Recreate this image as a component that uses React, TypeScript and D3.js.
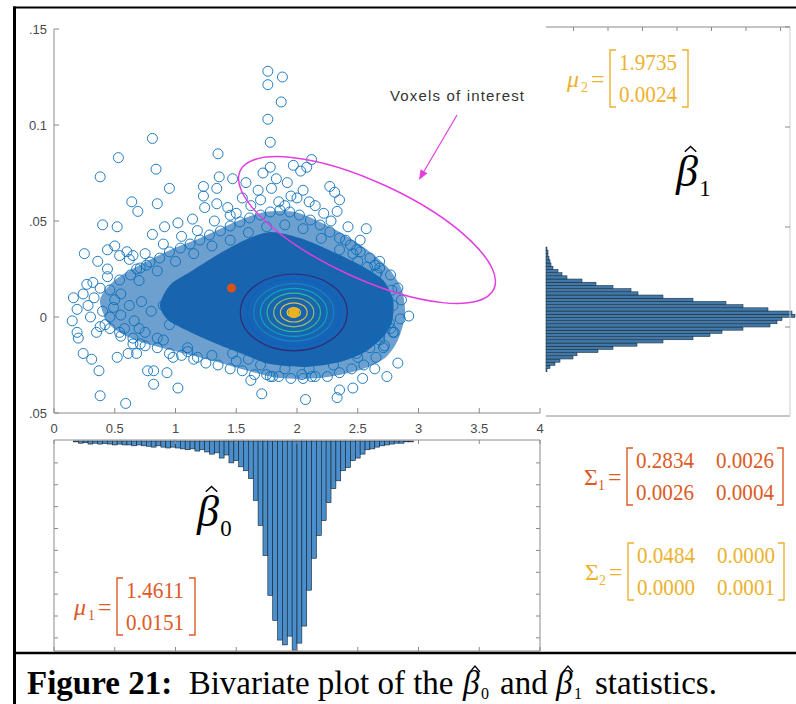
import React from 'react';
import * as d3 from 'd3';

const W = 796;
const H = 704;

// ---------- axis ticks ----------
const xTicks = [0, 0.5, 1, 1.5, 2, 2.5, 3, 3.5, 4];
const xTickLabels = ['0', '0.5', '1', '1.5', '2', '2.5', '3', '3.5', '4'];
const yTicks = [0.15, 0.1, 0.05, 0, -0.05];
const yTickLabels = ['.15', '0.1', '.05', '0', '.05'];

// ---------- scatter data (beta0, beta1) ----------
const outlierPts: [number, number][] = [
  [1.76, 0.128], [1.88, 0.125], [1.76, 0.121], [1.87, 0.112], [1.76, 0.103], [1.78, 0.091],
  [0.81, 0.093], [0.53, 0.083], [0.38, 0.073], [0.84, 0.077], [1.35, 0.085], [1.36, 0.073],
  [1.47, 0.072], [1.58, 0.070], [1.68, 0.066], [1.72, 0.075], [0.95, 0.067], [1.23, 0.068],
  [1.23, 0.063], [1.34, 0.067], [0.64, 0.060], [0.69, 0.055], [0.85, 0.059], [1.24, 0.057],
  [1.34, 0.059], [1.43, 0.057], [1.45, 0.053],
  [2.12, 0.082], [1.97, 0.079], [1.78, 0.078], [2.03, 0.076], [2.08, 0.078], [1.83, 0.072],
  [1.92, 0.070], [1.79, 0.067], [2.27, 0.068], [2.31, 0.065], [2.35, 0.061], [2.33, 0.055],
  [2.57, 0.046], [2.40, 0.040], [2.49, 0.035], [2.46, 0.033], [2.68, 0.029], [2.64, 0.027],
  [2.58, 0.026], [2.66, 0.023],
  [0.40, 0.048], [0.52, 0.047], [0.25, 0.033], [0.36, 0.029], [0.44, 0.035], [0.50, 0.037],
  [0.81, 0.043], [0.91, 0.047], [1.02, 0.049], [1.14, 0.051], [0.60, 0.034], [0.65, 0.032],
  [0.54, 0.032], [0.68, 0.025], [0.76, 0.027], [0.44, 0.025], [0.44, 0.021], [0.24, 0.012],
  [0.27, 0.017], [0.32, 0.018], [0.38, 0.015], [0.16, 0.010], [0.19, 0.004], [0.15, -0.002],
  [0.19, -0.008], [0.20, -0.011], [0.49, 0.005], [0.46, 0.000], [0.38, -0.005], [0.35, -0.008],
  [0.54, -0.008], [0.65, -0.014], [0.71, -0.014], [0.24, -0.019], [0.31, -0.022], [0.37, -0.028],
  [0.38, -0.041], [0.59, -0.045], [0.52, -0.021], [0.61, -0.019], [0.68, -0.019], [0.77, -0.028],
  [0.82, -0.028], [0.82, -0.035], [0.93, -0.029], [1.02, -0.037], [0.98, -0.021], [1.10, -0.018],
  [1.18, -0.021], [1.47, -0.019], [1.60, -0.022],
  [2.75, 0.009], [2.79, 0.006], [2.77, -0.006], [2.79, -0.008], [2.92, 0.0005], [2.83, -0.024],
  [2.74, -0.031], [2.64, -0.027], [2.54, -0.032], [2.46, -0.037], [2.35, -0.038], [2.33, -0.042],
  [2.07, -0.043], [1.71, -0.040], [2.12, -0.031], [2.04, -0.030], [1.80, -0.031], [2.49, -0.019],
  [2.60, -0.016], [2.71, -0.016], [2.68, -0.010], [1.78, -0.031], [1.62, -0.033],
];

const cloudEdgePts: [number, number][] = [
  [0.46, 0.0141], [0.54, 0.0193], [0.63, 0.0219], [0.71, 0.0255], [0.79, 0.0286], [0.87, 0.0307],
  [0.95, 0.0339], [1.04, 0.0359], [1.12, 0.038], [1.20, 0.0401], [1.28, 0.0427], [1.37, 0.0448],
  [1.45, 0.0474], [1.53, 0.0495], [1.61, 0.0516], [1.70, 0.0531], [1.78, 0.0547], [1.86, 0.0557],
  [1.94, 0.0547], [2.02, 0.0531], [2.11, 0.0505], [2.19, 0.0479], [2.27, 0.0443], [2.35, 0.0411],
  [2.44, 0.0375], [2.52, 0.0339], [2.60, 0.0307], [2.68, 0.0255], [2.77, 0.0219], [2.83, 0.0151],
  [2.86, 0.0089],
  [0.55, 0.012], [0.70, 0.019], [0.85, 0.024], [1.00, 0.029], [1.15, 0.033], [1.30, 0.037],
  [1.45, 0.040], [1.60, 0.044], [1.75, 0.047], [1.90, 0.048], [2.05, 0.046], [2.20, 0.041],
  [2.35, 0.035], [2.50, 0.029], [2.65, 0.022], [2.78, 0.014],
  [0.62, 0.030], [0.75, 0.033], [0.90, 0.038], [1.05, 0.042], [1.18, 0.045], [1.32, 0.050],
  [1.50, 0.054], [1.62, 0.058], [1.85, 0.060], [2.00, 0.062], [2.15, 0.058], [2.22, 0.054],
  [2.42, 0.047], [1.70, 0.061], [1.90, 0.058], [2.10, 0.060], [1.95, 0.063], [2.05, 0.066],
  [1.55, 0.062], [2.28, 0.050], [2.52, 0.040],
  [0.28, 0.006], [0.30, 0.000], [0.33, 0.010], [0.40, 0.003], [0.42, -0.004], [0.50, 0.009],
  [0.55, 0.001], [0.58, -0.006], [0.62, 0.006], [0.66, -0.002], [0.72, 0.008], [0.75, -0.008],
  [0.80, 0.003], [0.85, -0.011], [0.90, 0.006], [0.95, -0.004],
  [0.46, -0.006], [0.55, -0.010], [0.65, -0.011], [0.75, -0.015], [0.85, -0.016], [0.95, -0.019],
  [1.05, -0.020], [1.15, -0.022], [1.25, -0.024], [1.35, -0.025], [1.45, -0.027], [1.55, -0.028],
  [1.65, -0.030], [1.75, -0.030], [1.85, -0.031], [1.95, -0.032], [2.05, -0.032], [2.15, -0.031],
  [2.25, -0.031], [2.35, -0.029], [2.45, -0.027], [2.55, -0.025], [2.65, -0.021], [2.72, -0.015],
  [2.80, -0.008], [2.85, -0.001],
  [0.70, -0.006], [0.90, -0.012], [1.10, -0.016], [1.30, -0.020], [1.50, -0.023], [1.70, -0.025],
  [1.90, -0.027], [2.10, -0.027], [2.30, -0.025], [2.50, -0.021], [2.68, -0.012], [2.76, -0.003],
];

// dense (saturated) region outlines, data units
const coreOutline: [number, number][] = [
  [0.872, 0.0063], [0.955, 0.0167], [1.119, 0.0234], [1.342, 0.0323], [1.572, 0.0401],
  [1.778, 0.0443], [2.025, 0.0411], [2.296, 0.0339], [2.519, 0.0271], [2.708, 0.0193],
  [2.790, 0.0089], [2.782, -0.0026], [2.708, -0.0104], [2.560, -0.0182], [2.354, -0.0234],
  [2.066, -0.026], [1.778, -0.0245], [1.572, -0.0198], [1.342, -0.0141], [1.119, -0.0078],
  [0.938, -0.0016],
];
const haloOutline: [number, number][] = [
  [0.379, 0.0089], [0.502, 0.0193], [0.708, 0.0271], [0.955, 0.0349], [1.202, 0.0411],
  [1.490, 0.0495], [1.737, 0.0547], [1.984, 0.0547], [2.189, 0.0495], [2.395, 0.0427],
  [2.601, 0.0339], [2.765, 0.0245], [2.864, 0.0141], [2.889, 0.001], [2.831, -0.012],
  [2.724, -0.0214], [2.519, -0.0276], [2.189, -0.0318], [1.86, -0.0318], [1.572, -0.0276],
  [1.284, -0.0224], [0.955, -0.0172], [0.667, -0.012], [0.461, -0.0042],
];

// ---------- Gaussian parameters ----------
const mu1 = [1.4611, 0.0151];
const mu2 = [1.9735, 0.0024];
const sigma1 = [[0.2834, 0.0026], [0.0026, 0.0004]];
const sigma2 = [[0.0484, 0.0], [0.0, 0.0001]];
const contourLevels = [2, 1.75, 1.5, 1.25, 1, 0.75, 0.5, 0.25];
const contourColors = ['#2e2a80', '#0a5fd8', '#1483d4', '#08a5c8', '#33b89f', '#8fbf72', '#d8ba55', '#f8c92f'];

// ---------- marginal histograms ----------
const beta0BinStart = 0.16;
const beta0BinWidth = 0.04;
const beta0Counts = [
  2, 5, 4, 7, 5, 7, 6, 7, 9, 7, 9, 9, 11, 9, 11, 12, 14, 11, 14, 16,
  14, 16, 18, 20, 18, 23, 20, 25, 30, 27, 39, 32, 50, 45, 59, 68, 86, 136, 193, 262,
  353, 410, 455, 466, 446, 478, 462, 423, 341, 268, 216, 182, 141, 109, 91, 68, 61, 45, 39, 30,
  20, 18, 14, 11, 9, 7, 5, 5, 2, 2,
];
const beta0CountTicks = [50, 100, 150, 200, 250, 300, 350, 400, 450];

const beta1BinStart = -0.0224;
const beta1BinWidth = 0.0016;
const beta1Counts = [
  1, 4, 9, 14, 27, 31, 52, 67, 91, 117, 147, 164, 176, 197, 224, 231, 236, 249, 246, 222,
  197, 180, 147, 117, 92, 85, 67, 50, 36, 21, 16, 12, 7, 5, 4, 3, 2, 2, 1,
];
const beta1AxisTicks = [0, 0.05, 0.1, 0.15];
const beta1CountTicks = [1, 2, 3, 4, 5, 6, 7];

const ORANGE = '#dd5a24';
const GOLD = '#ecb22e';
const MAGENTA = '#e23ee0';
const AXIS = '#8a8a8a';
const LABEL = '#4a4a4a';
const SANS = '"Liberation Sans", Arial, sans-serif';
const SERIF = '"Liberation Serif", "Times New Roman", serif';

function Matrix({ x, y, color, label, italic, sub, rows, colGap }: any) {
  // x: left bracket position, y: top of bracket
  const nCols = rows[0].length;
  const rowH = 32;
  const h = rows.length * rowH - 7;
  const width = nCols === 1 ? 78 : 156;
  return (
    <g fill={color} stroke="none" fontFamily={SERIF}>
      <text x={x - 43} y={y + h / 2 + 8} fontSize={24} fontStyle={italic ? 'italic' : 'normal'}>{label}</text>
      <text x={x - 29} y={y + h / 2 + 13} fontSize={14}>{sub}</text>
      <text x={x - 19} y={y + h / 2 + 8} fontSize={24}>=</text>
      <path d={`M${x + 6},${y} H${x} V${y + h} H${x + 6}`} fill="none" stroke={color} strokeWidth={1.4} />
      <path d={`M${x + width - 6},${y} H${x + width} V${y + h} H${x + width - 6}`} fill="none" stroke={color} strokeWidth={1.4} />
      {rows.map((r: string[], i: number) =>
        r.map((v: string, j: number) => (
          <text key={i + '-' + j} x={x + 9 + j * colGap} y={y + 20 + i * rowH} fontSize={24}
            textLength={58} lengthAdjust="spacingAndGlyphs">{v}</text>
        ))
      )}
    </g>
  );
}

function BetaHat({ x, y, size, sub }: any) {
  const s = size;
  return (
    <g fontFamily={SERIF} fill="#000">
      <text x={x} y={y} fontSize={s} fontStyle="italic">β</text>
      <path d={`M${x + s * 0.2},${y - s * 0.78} L${x + s * 0.33},${y - s * 0.9} L${x + s * 0.46},${y - s * 0.78}`} fill="none" stroke="#000" strokeWidth={s / 30} />
      <text x={x + s * 0.53} y={y + s * 0.22} fontSize={s * 0.52}>{sub}</text>
    </g>
  );
}

export default function App() {
  const x = d3.scaleLinear().domain([0, 4]).range([54, 540]);
  const y = d3.scaleLinear().domain([-0.05, 0.15]).range([413, 29]);

  // right marginal (beta1) panel
  const yR = d3.scaleLinear().domain([-0.044, 0.15]).range([415, 27]);
  const xR = d3.scaleLinear().domain([0, 250]).range([546, 796]);
  const xRTicks = d3.scaleLinear().domain([0, 7]).range([539, 780.5]);

  // bottom marginal (beta0) panel
  const yB = d3.scaleLinear().domain([0, 480]).range([441, 651]);

  const closed = d3.line<[number, number]>().x(d => x(d[0])).y(d => y(d[1])).curve(d3.curveCardinalClosed.tension(0.2));

  const sx2 = Math.sqrt(sigma2[0][0]);
  const sy2 = Math.sqrt(sigma2[1][1]);
  const cx2 = x(mu2[0]);
  const cy2 = y(mu2[1]);

  // voxels-of-interest annotation (data-space anchor)
  const voxCenter = [2.576, 0.0453];
  const arrowFrom = [3.317, 0.1052];
  const arrowTo = [3.004, 0.0714];
  const ax0 = x(arrowFrom[0]), ay0 = y(arrowFrom[1]);
  const ax1 = x(arrowTo[0]), ay1 = y(arrowTo[1]);
  const ang = Math.atan2(ay1 - ay0, ax1 - ax0);
  const hl = 10, hw = 4;
  const bx = ax1 - hl * Math.cos(ang), by = ay1 - hl * Math.sin(ang);
  const head = `M${ax1},${ay1} L${bx + hw * Math.sin(ang)},${by - hw * Math.cos(ang)} L${bx - hw * Math.sin(ang)},${by + hw * Math.cos(ang)} Z`;

  const fmt = (v: number) => v.toFixed(4);

  return (
    <svg width={W} height={H} style={{ position: 'absolute', left: 0, top: 0, background: '#fff' }}>
      <rect x={0} y={0} width={W} height={H} fill="#fff" />

      {/* ---------- scatter: dense cloud ---------- */}
      <path d={closed(haloOutline) || ''} fill="#1466b0" fillOpacity={0.62} />
      <path d={closed(coreOutline) || ''} fill="#1864ae" />
      <g fill="none" stroke="#0a6fba" strokeWidth={1} strokeOpacity={0.9}>
        {cloudEdgePts.map((p, i) => <circle key={'e' + i} cx={x(p[0])} cy={y(p[1])} r={5} />)}
        {outlierPts.map((p, i) => <circle key={'o' + i} cx={x(p[0])} cy={y(p[1])} r={5} />)}
      </g>

      {/* contours of component 2 */}
      <g fill="none" strokeWidth={1.2}>
        {contourLevels.map((k, i) => (
          <ellipse key={i} cx={cx2} cy={cy2}
            rx={x(mu2[0] + k * sx2) - cx2} ry={cy2 - y(mu2[1] + k * sy2)}
            stroke={contourColors[i]} />
        ))}
      </g>
      <circle cx={cx2} cy={cy2} r={5.5} fill="#EDB120" />
      <circle cx={x(mu1[0])} cy={y(mu1[1])} r={4.5} fill="#D95319" />

      {/* voxels of interest */}
      <ellipse cx={x(voxCenter[0])} cy={y(voxCenter[1])} rx={140} ry={48}
        transform={`rotate(25 ${x(voxCenter[0])} ${y(voxCenter[1])})`}
        fill="none" stroke={MAGENTA} strokeWidth={1.5} />
      <line x1={ax0} y1={ay0} x2={bx} y2={by} stroke={MAGENTA} strokeWidth={1.2} />
      <path d={head} fill={MAGENTA} />
      <text x={457} y={101} textAnchor="middle" fontFamily={SANS} fontSize={15} fill="#333"
        textLength={134} lengthAdjust="spacing">Voxels of interest</text>

      {/* ---------- scatter axes ---------- */}
      <g stroke={AXIS} strokeWidth={1} fill="none">
        <line x1={54} y1={y(0.15)} x2={54} y2={413} />
        <line x1={54} y1={413} x2={540} y2={413} />
        {yTicks.map((t, i) => <line key={i} x1={54} x2={59} y1={y(t)} y2={y(t)} />)}
        {xTicks.map((t, i) => <line key={i} x1={x(t)} x2={x(t)} y1={413} y2={408} />)}
      </g>
      <g fontFamily={SANS} fontSize={13} fill={LABEL}>
        {yTicks.map((t, i) => (
          <text key={i} x={47} y={y(t) + 4.5} textAnchor="end">{yTickLabels[i]}</text>
        ))}
        {xTicks.map((t, i) => (
          <text key={i} x={x(t)} y={433} textAnchor="middle">{xTickLabels[i]}</text>
        ))}
      </g>

      {/* ---------- right marginal histogram (beta1) ---------- */}
      <g fill="#4279a9" stroke="#13202c" strokeWidth={0.5}>
        {beta1Counts.map((c, i) => {
          const lo = beta1BinStart + i * beta1BinWidth;
          const hi = lo + beta1BinWidth;
          return <rect key={i} x={xR(0)} y={yR(hi)} width={xR(c) - xR(0)} height={yR(lo) - yR(hi)} />;
        })}
      </g>
      <g stroke={AXIS} strokeWidth={1} fill="none">
        <line x1={546} y1={yR(0.15)} x2={790} y2={yR(0.15)} />
        {beta1CountTicks.map((t, i) => <line key={i} x1={xRTicks(t)} x2={xRTicks(t)} y1={yR(0.15)} y2={yR(0.15) + 4} />)}
        <line x1={790} y1={yR(0.15)} x2={790} y2={415} stroke="#cfcfcf" />
        {beta1AxisTicks.map((t, i) => <line key={i} x1={790} x2={785} y1={yR(t)} y2={yR(t)} />)}
        <line x1={546} y1={416} x2={790} y2={416} />
      </g>

      {/* ---------- bottom marginal histogram (beta0) ---------- */}
      <g fill="#4a8fcb" stroke="#15202b" strokeWidth={0.6}>
        {beta0Counts.map((c, i) => {
          const lo = beta0BinStart + i * beta0BinWidth;
          const hi = lo + beta0BinWidth;
          return <rect key={i} x={x(lo)} y={yB(0)} width={x(hi) - x(lo)} height={yB(c) - yB(0)} />;
        })}
      </g>
      <g stroke={AXIS} strokeWidth={1} fill="none">
        <line x1={54} y1={440} x2={540} y2={440} />
        <line x1={54} y1={440} x2={54} y2={651} />
        <line x1={540} y1={440} x2={540} y2={651} />
        <line x1={54} y1={651} x2={540} y2={651} />
        {xTicks.map((t, i) => <line key={'t' + i} x1={x(t)} x2={x(t)} y1={440} y2={444} />)}
        {xTicks.map((t, i) => <line key={'b' + i} x1={x(t)} x2={x(t)} y1={651} y2={647} />)}
        {beta0CountTicks.map((t, i) => <line key={'l' + i} x1={54} x2={58} y1={yB(t)} y2={yB(t)} />)}
        {beta0CountTicks.map((t, i) => <line key={'r' + i} x1={540} x2={536} y1={yB(t)} y2={yB(t)} />)}
      </g>

      {/* ---------- labels & parameter matrices ---------- */}
      <BetaHat x={676} y={186} size={44} sub="1" />
      <BetaHat x={197} y={526} size={44} sub="0" />

      <Matrix x={610} y={50} color={GOLD} label="μ" italic sub="2" colGap={0}
        rows={[[fmt(mu2[0])], [fmt(mu2[1])]]} />
      <Matrix x={117} y={578} color={ORANGE} label="μ" italic sub="1" colGap={0}
        rows={[[fmt(mu1[0])], [fmt(mu1[1])]]} />
      <Matrix x={627} y={448} color={ORANGE} label="Σ" sub="1" colGap={80}
        rows={sigma1.map(r => r.map(fmt))} />
      <Matrix x={628} y={543} color={GOLD} label="Σ" sub="2" colGap={80}
        rows={sigma2.map(r => r.map(fmt))} />

      {/* ---------- frame ---------- */}
      <line x1={13} y1={7.5} x2={796} y2={7.5} stroke="#000" strokeWidth={2} />
      <line x1={14.5} y1={6.5} x2={14.5} y2={704} stroke="#000" strokeWidth={3} />
      <line x1={13} y1={653} x2={796} y2={653} stroke="#000" strokeWidth={2.5} />

      {/* ---------- caption ---------- */}
      <g fontFamily={SERIF} fontSize={33} fill="#000">
        <text x={27} y={694}>
          <tspan fontWeight="bold">Figure 21:</tspan>
          <tspan>{'\u00a0 Bivariate plot of the '}</tspan>
        </text>
      </g>
      <CaptionRest />
    </svg>
  );
}

function CaptionRest() {
  // positions after "Figure 21:  Bivariate plot of the"
  return (
    <g fontFamily={SERIF} fill="#000">
      <text x={463} y={694} fontSize={33} fontStyle="italic">β</text>
      <path d="M470,672 L475,666 L480,672" fill="none" stroke="#000" strokeWidth={1.2} />
      <text x={481} y={699} fontSize={16}>0</text>
      <text x={500} y={694} fontSize={33}>and</text>
      <text x={556} y={694} fontSize={33} fontStyle="italic">β</text>
      <path d="M563,672 L568,666 L573,672" fill="none" stroke="#000" strokeWidth={1.2} />
      <text x={574} y={699} fontSize={16}>1</text>
      <text x={595} y={694} fontSize={33}>statistics.</text>
    </g>
  );
}
